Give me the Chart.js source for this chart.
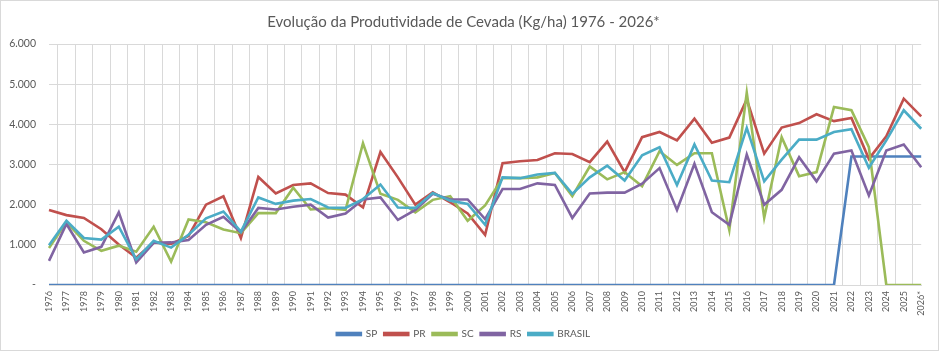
<!DOCTYPE html>
<html>
<head>
<meta charset="utf-8">
<script src="https://cdn.jsdelivr.net/npm/chart.js@4"></script>
<style>
    body { margin: 0; background: #fff; }
    .wrap { position: relative; width: 937px; height: 349px; border: 1px solid #d9d9d9; }
</style>
</head>
<body>
<div class="wrap"><canvas id="cevadaChart"></canvas></div>
<script>
// Anos (categorias)
const years = ['1976','1977','1978','1979','1980','1981','1982','1983','1984','1985',
    '1986','1987','1988','1989','1990','1991','1992','1993','1994','1995',
    '1996','1997','1998','1999','2000','2001','2002','2003','2004','2005',
    '2006','2007','2008','2009','2010','2011','2012','2013','2014','2015',
    '2016','2017','2018','2019','2020','2021','2022','2023','2024','2025','2026*'];

// Produtividade (kg/ha) por estado
const sp = [0,0,0,0,0,0,0,0,0,0, 0,0,0,0,0,0,0,0,0,0, 0,0,0,0,0,0,0,0,0,0,
    0,0,0,0,0,0,0,0,0,0, 0,0,0,0,0,0,3200,3200,3200,3200,3200];
const pr = [1870,1740,1670,1390,1010,680,1060,1020,1220,2000, 2210,1170,2690,2280,2490,2530,2290,2250,1930,3310,
    2680,2000,2310,2060,1780,1250,3030,3080,3110,3280, 3260,3060,3570,2810,3680,3810,3600,4140,3540,3670,
    4620,3270,3920,4030,4250,4080,4160,3140,3700,4640,4200];
const sc = [920,1560,1100,850,980,830,1450,580,1630,1560, 1380,1290,1790,1790,2420,1880,1910,1870,3530,2270,
    2120,1810,2120,2210,1600,1980,2660,2660,2680,2790, 2210,2950,2630,2810,2460,3330,2990,3280,3280,1370,
    4790,1670,3680,2710,2810,4430,4350,3430,0,0,0];
const rs = [600,1520,810,950,1810,560,1050,1060,1120,1500, 1700,1310,1920,1880,1950,2000,1680,1780,2130,2180,
    1620,1870,2270,2130,2130,1640,2390,2390,2530,2490, 1670,2280,2300,2300,2520,2910,1870,3020,1810,1500,
    3250,2000,2370,3180,2580,3270,3350,2230,3350,3500,2930];
const brasil = [990,1600,1170,1130,1450,640,1100,930,1250,1660, 1830,1330,2180,2020,2100,2140,1930,1920,2140,2500,
    1930,1920,2290,2100,2020,1500,2680,2660,2750,2790, 2270,2680,2970,2600,3230,3430,2490,3500,2600,2560,
    3910,2580,3120,3620,3620,3810,3880,2920,3600,4350,3890];

const fontName = 'Lato, "Open Sans", sans-serif';

function fmtTick(value) {
    if (value === 0) return '-';
    return (value / 1000) + '.000';
}

function series(label, data, color, order) {
    return {
        label: label,
        data: data,
        borderColor: color,
        backgroundColor: color,
        borderWidth: 2.6,
        pointRadius: 0,
        tension: 0,
        order: order
    };
}

const ctx = document.getElementById('cevadaChart').getContext('2d');
const cevadaChart = new Chart(ctx, {
    type: 'line',
    data: {
        labels: years,
        datasets: [
            series('SP', sp, '#4F81BD', 5),
            series('PR', pr, '#C0504D', 4),
            series('SC', sc, '#9BBB59', 3),
            series('RS', rs, '#8064A2', 2),
            series('BRASIL', brasil, '#4BACC6', 1)
        ]
    },
    options: {
        responsive: true,
        maintainAspectRatio: false,
        animation: false,
        layout: { padding: { left: 0, right: 12, top: 6, bottom: 1 } },
        plugins: {
            title: {
                display: true,
                text: 'Evolução da Produtividade de Cevada (Kg/ha) 1976 - 2026*',
                color: '#595959',
                font: { family: fontName, size: 15, weight: 'normal' },
                padding: { top: 6, bottom: 13 }
            },
            legend: {
                position: 'bottom',
                labels: {
                    color: '#595959',
                    font: { family: fontName, size: 10 },
                    boxWidth: 24,
                    boxHeight: 2,
                    padding: 7,
                    // keep the legend in dataset order (SP first)
                    sort: (a, b) => a.datasetIndex - b.datasetIndex
                }
            },
            tooltip: { enabled: false }
        },
        scales: {
            x: {
                grid: { color: '#d9d9d9', offset: true, drawTicks: false },
                border: { color: '#d9d9d9' },
                ticks: {
                    color: '#595959',
                    font: { family: fontName, size: 9 },
                    minRotation: 90,
                    maxRotation: 90,
                    autoSkip: false,
                    padding: 6
                },
                afterFit: scale => { scale.height = 37; }
            },
            y: {
                min: 0,
                max: 6000,
                grid: { color: '#d9d9d9', drawTicks: false },
                border: { display: false },
                ticks: {
                    stepSize: 1000,
                    color: '#595959',
                    font: { family: fontName, size: 10.5 },
                    padding: 13,
                    callback: fmtTick
                },
                afterFit: scale => { scale.width = 48; }
            }
        }
    }
});
</script>
</body>
</html>
